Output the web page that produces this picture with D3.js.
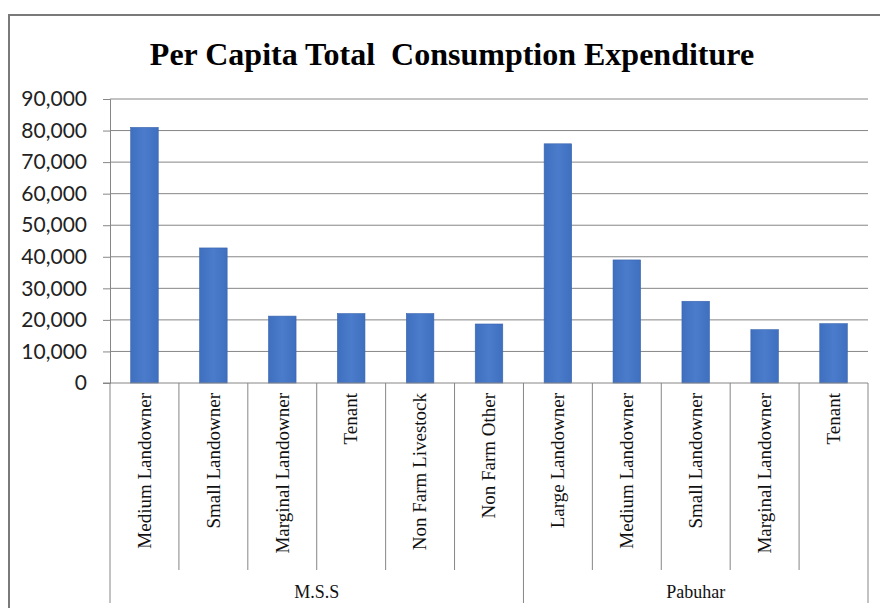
<!DOCTYPE html>
<html>
<head>
<meta charset="utf-8">
<script src="https://cdn.jsdelivr.net/npm/d3@7"></script>
<style>
  html, body { margin: 0; padding: 0; background: #fff; }
  svg { display: block; }
</style>
</head>
<body>
<svg id="chart" width="880" height="608"></svg>
<script>
// Per capita total consumption expenditure by household category, two villages
const categories = [
  "Medium Landowner", "Small Landowner", "Marginal Landowner", "Tenant",
  "Non Farm Livestock", "Non Farm Other",
  "Large Landowner", "Medium Landowner", "Small Landowner", "Marginal Landowner", "Tenant"
];
const groups = ["M.S.S", "M.S.S", "M.S.S", "M.S.S", "M.S.S", "M.S.S",
  "Pabuhar", "Pabuhar", "Pabuhar", "Pabuhar", "Pabuhar"];
const values = [81000, 42800, 21200, 22000, 22000, 18700,
  75800, 39000, 25900, 16900, 18800];
const yTicks = [0, 10000, 20000, 30000, 40000, 50000, 60000, 70000, 80000, 90000];
const title = "Per Capita Total  Consumption Expenditure";

const svg = d3.select("#chart");
const plotLeft = 110, plotRight = 868, plotTop = 99, plotBottom = 383;

// outer chart frame (only top and left edges fall inside the view)
svg.append("rect")
  .attr("x", 9).attr("y", 15).attr("width", 880).attr("height", 620)
  .attr("fill", "none").attr("stroke", "#7a7a7a").attr("stroke-width", 2);

svg.append("text")
  .attr("x", 452).attr("y", 65)
  .attr("text-anchor", "middle")
  .attr("font-family", "'Liberation Serif', 'Times New Roman', serif")
  .attr("font-weight", "bold").attr("font-size", 32)
  .style("white-space", "pre")
  .attr("fill", "#000")
  .text(title);

const x = d3.scaleBand()
  .domain(d3.range(categories.length))
  .range([plotLeft, plotRight])
  .paddingInner(0.6).paddingOuter(0.3);

const y = d3.scaleLinear().domain([0, 90000]).range([plotBottom, plotTop]);

// gridlines
svg.append("g")
  .selectAll("line").data(yTicks.filter(d => d > 0)).join("line")
  .attr("x1", plotLeft).attr("x2", plotRight)
  .attr("y1", d => y(d)).attr("y2", d => y(d))
  .attr("stroke", "#868686").attr("stroke-width", 1);

// value axis
const yAxis = svg.append("g")
  .attr("transform", `translate(${plotLeft},0)`)
  .call(d3.axisLeft(y).tickValues(yTicks).tickSize(7).tickPadding(16)
    .tickFormat(d3.format(",")));
yAxis.select(".domain").attr("stroke", "#868686");
yAxis.selectAll(".tick line").attr("stroke", "#868686");
yAxis.selectAll(".tick text")
  .attr("font-family", "Lato, 'Open Sans', sans-serif")
  .attr("font-size", 21).attr("fill", "#222");

// bars
const grad = svg.append("defs").append("linearGradient")
  .attr("id", "barFill").attr("x1", 0).attr("x2", 1).attr("y1", 0).attr("y2", 0);
grad.append("stop").attr("offset", "0%").attr("stop-color", "#3f6fbf");
grad.append("stop").attr("offset", "50%").attr("stop-color", "#4b7bcb");
grad.append("stop").attr("offset", "100%").attr("stop-color", "#3f6fbf");

svg.append("g")
  .selectAll("rect").data(values).join("rect")
  .attr("x", (d, i) => x(i))
  .attr("width", x.bandwidth())
  .attr("y", d => y(d))
  .attr("height", d => y(0) - y(d))
  .attr("fill", "url(#barFill)")
  .attr("stroke", "#3a65ad").attr("stroke-width", 0.6);

// category axis baseline
svg.append("line")
  .attr("x1", plotLeft - 7).attr("x2", plotRight)
  .attr("y1", plotBottom).attr("y2", plotBottom)
  .attr("stroke", "#868686");

// category divider lines; group boundaries run longer
const step = x.step();
const boundaries = d3.range(categories.length + 1);
svg.append("g")
  .selectAll("line").data(boundaries).join("line")
  .attr("x1", i => plotLeft + i * step).attr("x2", i => plotLeft + i * step)
  .attr("y1", plotBottom)
  .attr("y2", i => (i === 0 || i === categories.length || groups[i] !== groups[i - 1]) ? 603 : 570)
  .attr("stroke", "#868686");

// category labels, rotated
svg.append("g")
  .selectAll("text").data(categories).join("text")
  .attr("transform", (d, i) => `translate(${x(i) + x.bandwidth() / 2},393) rotate(-90)`)
  .attr("text-anchor", "end").attr("dy", "0.33em")
  .attr("font-family", "'Liberation Serif', 'Times New Roman', serif")
  .attr("font-size", 19).attr("fill", "#111")
  .text(d => d);

// group labels
const groupNames = Array.from(new Set(groups));
svg.append("g")
  .selectAll("text").data(groupNames).join("text")
  .attr("x", g => {
    const idx = groups.map((v, i) => v === g ? i : -1).filter(i => i >= 0);
    return plotLeft + (d3.min(idx) + d3.max(idx) + 1) / 2 * step;
  })
  .attr("y", 598)
  .attr("text-anchor", "middle")
  .attr("font-family", "'Liberation Serif', 'Times New Roman', serif")
  .attr("font-size", 18).attr("fill", "#111")
  .text(g => g);
</script>
</body>
</html>
